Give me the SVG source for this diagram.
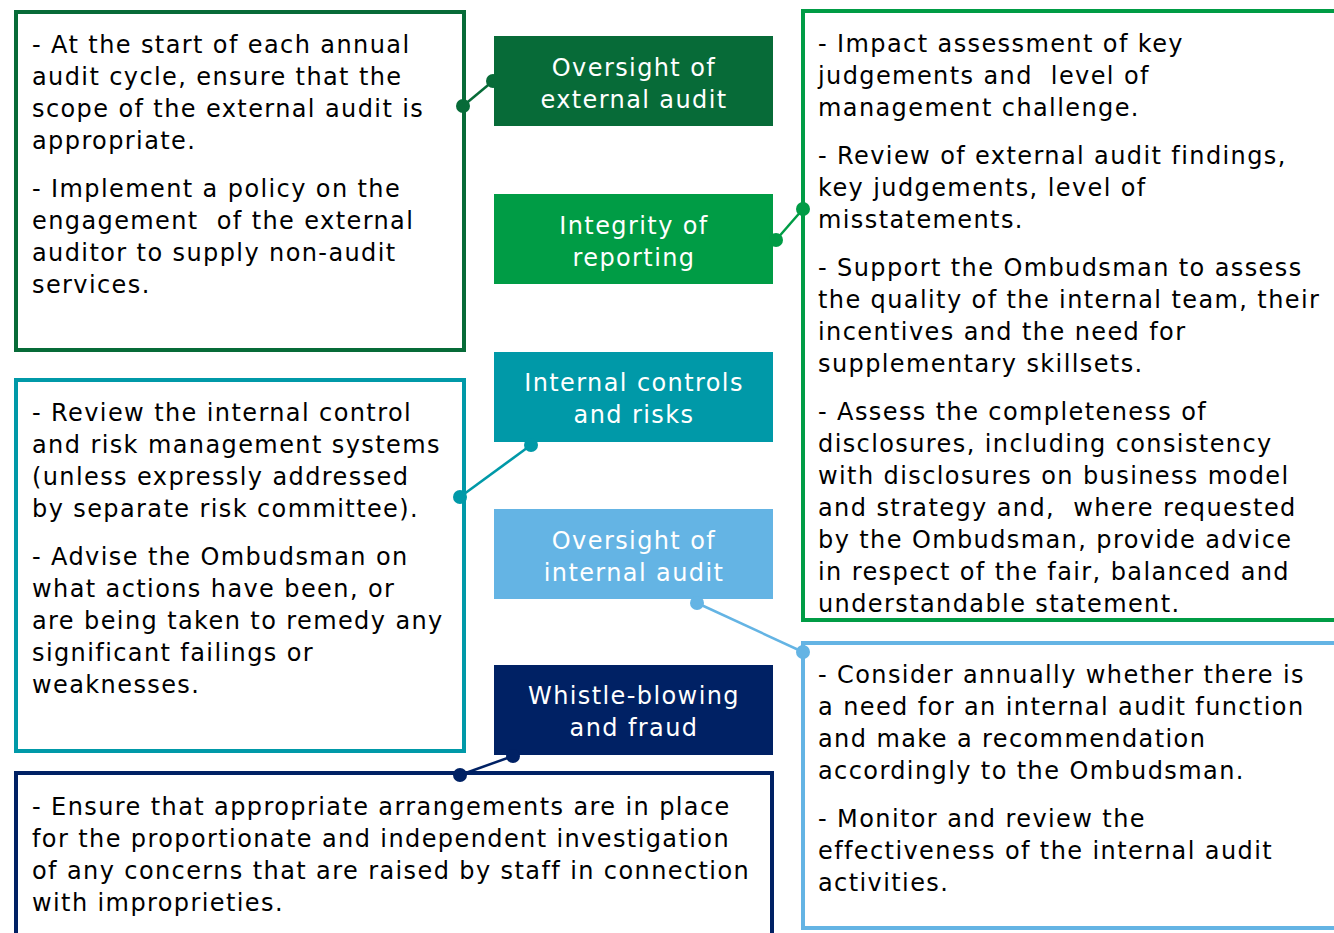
<svg xmlns="http://www.w3.org/2000/svg" width="1334" height="933" viewBox="0 0 1334 933">
<style>
.t{font-family:"DejaVu Sans","Noto Sans",sans-serif;font-size:24px;letter-spacing:1.4px;fill:#000;}
.n{font-family:"DejaVu Sans","Noto Sans",sans-serif;font-size:24px;letter-spacing:1.4px;fill:#fff;text-anchor:middle;}
.box{fill:#fff;stroke-width:4;}
</style>
<rect width="1334" height="933" fill="#fff"/>
<g id="box-external">
<rect class="box" x="16" y="12" width="448" height="338" stroke="#076B38"/>
<text class="t" x="32" y="53">- At the start of each annual</text>
<text class="t" x="32" y="85">audit cycle, ensure that the</text>
<text class="t" x="32" y="117">scope of the external audit is</text>
<text class="t" x="32" y="149">appropriate.</text>
<text class="t" x="32" y="197">- Implement a policy on the</text>
<text class="t" x="32" y="229" xml:space="preserve">engagement  of the external</text>
<text class="t" x="32" y="261">auditor to supply non-audit</text>
<text class="t" x="32" y="293">services.</text>
</g>
<g id="box-reporting">
<rect class="box" x="803" y="11" width="560" height="609" stroke="#009C45"/>
<text class="t" x="818" y="52">- Impact assessment of key</text>
<text class="t" x="818" y="84" xml:space="preserve">judgements and  level of</text>
<text class="t" x="818" y="116">management challenge.</text>
<text class="t" x="818" y="164">- Review of external audit findings,</text>
<text class="t" x="818" y="196">key judgements, level of</text>
<text class="t" x="818" y="228">misstatements.</text>
<text class="t" x="818" y="276">- Support the Ombudsman to assess</text>
<text class="t" x="818" y="308">the quality of the internal team, their</text>
<text class="t" x="818" y="340">incentives and the need for</text>
<text class="t" x="818" y="372">supplementary skillsets.</text>
<text class="t" x="818" y="420">- Assess the completeness of</text>
<text class="t" x="818" y="452">disclosures, including consistency</text>
<text class="t" x="818" y="484">with disclosures on business model</text>
<text class="t" x="818" y="516" xml:space="preserve">and strategy and,  where requested</text>
<text class="t" x="818" y="548">by the Ombudsman, provide advice</text>
<text class="t" x="818" y="580">in respect of the fair, balanced and</text>
<text class="t" x="818" y="612">understandable statement.</text>
</g>
<g id="box-controls">
<rect class="box" x="16" y="380" width="448" height="371" stroke="#0099A8"/>
<text class="t" x="32" y="421">- Review the internal control</text>
<text class="t" x="32" y="453">and risk management systems</text>
<text class="t" x="32" y="485">(unless expressly addressed</text>
<text class="t" x="32" y="517">by separate risk committee).</text>
<text class="t" x="32" y="565">- Advise the Ombudsman on</text>
<text class="t" x="32" y="597">what actions have been, or</text>
<text class="t" x="32" y="629">are being taken to remedy any</text>
<text class="t" x="32" y="661">significant failings or</text>
<text class="t" x="32" y="693">weaknesses.</text>
</g>
<g id="box-internal">
<rect class="box" x="803" y="643" width="560" height="285" stroke="#64B4E4"/>
<text class="t" x="818" y="683">- Consider annually whether there is</text>
<text class="t" x="818" y="715">a need for an internal audit function</text>
<text class="t" x="818" y="747">and make a recommendation</text>
<text class="t" x="818" y="779">accordingly to the Ombudsman.</text>
<text class="t" x="818" y="827">- Monitor and review the</text>
<text class="t" x="818" y="859">effectiveness of the internal audit</text>
<text class="t" x="818" y="891">activities.</text>
</g>
<g id="box-whistle">
<rect class="box" x="16" y="773" width="756" height="200" stroke="#002164"/>
<text class="t" x="32" y="815">- Ensure that appropriate arrangements are in place</text>
<text class="t" x="32" y="847">for the proportionate and independent investigation</text>
<text class="t" x="32" y="879">of any concerns that are raised by staff in connection</text>
<text class="t" x="32" y="911">with improprieties.</text>
</g>
<g id="node-external">
<rect x="494" y="36" width="279" height="90" fill="#076B38"/>
<text class="n" x="634" y="76">Oversight of</text>
<text class="n" x="634" y="108">external audit</text>
</g>
<g id="node-reporting">
<rect x="494" y="194" width="279" height="90" fill="#009C45"/>
<text class="n" x="634" y="234">Integrity of</text>
<text class="n" x="634" y="266">reporting</text>
</g>
<g id="node-controls">
<rect x="494" y="352" width="279" height="90" fill="#0099A8"/>
<text class="n" x="634" y="391">Internal controls</text>
<text class="n" x="634" y="423">and risks</text>
</g>
<g id="node-internal">
<rect x="494" y="509" width="279" height="90" fill="#64B4E4"/>
<text class="n" x="634" y="549">Oversight of</text>
<text class="n" x="634" y="581">internal audit</text>
</g>
<g id="node-whistle">
<rect x="494" y="665" width="279" height="90" fill="#002164"/>
<text class="n" x="634" y="704">Whistle-blowing</text>
<text class="n" x="634" y="736">and fraud</text>
</g>
<g id="connectors" stroke-width="2.5">
<line x1="463" y1="106" x2="493" y2="81" stroke="#076B38"/>
<circle cx="463" cy="106" r="7" fill="#076B38"/>
<circle cx="493" cy="81" r="7" fill="#076B38"/>
<line x1="776" y1="240" x2="803" y2="209" stroke="#009C45"/>
<circle cx="776" cy="240" r="7" fill="#009C45"/>
<circle cx="803" cy="209" r="7" fill="#009C45"/>
<line x1="460" y1="497" x2="531" y2="445" stroke="#0099A8"/>
<circle cx="460" cy="497" r="7" fill="#0099A8"/>
<circle cx="531" cy="445" r="7" fill="#0099A8"/>
<line x1="697" y1="603" x2="803" y2="652" stroke="#64B4E4"/>
<circle cx="697" cy="603" r="7" fill="#64B4E4"/>
<circle cx="803" cy="652" r="7" fill="#64B4E4"/>
<line x1="460" y1="775" x2="513" y2="756" stroke="#002164"/>
<circle cx="460" cy="775" r="7" fill="#002164"/>
<circle cx="513" cy="756" r="7" fill="#002164"/>
</g>
</svg>
